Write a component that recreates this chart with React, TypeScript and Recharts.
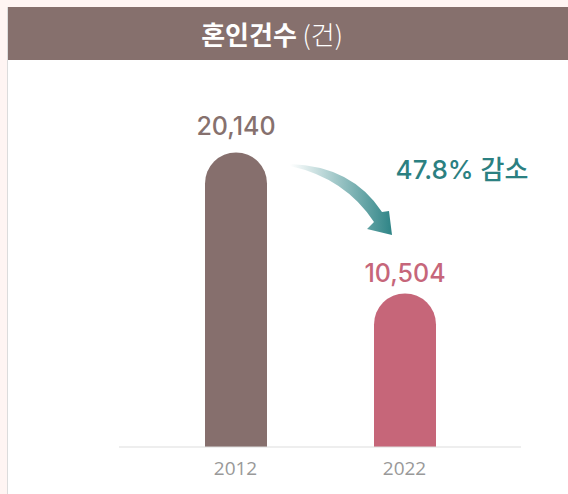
import { Bar, BarChart, Cell, LabelList, XAxis, YAxis } from "recharts";

const years = ["2012", "2022"];
const marriages = [20140, 10504];
const barColors = ["#866f6d", "#c66679"];
const labelColors = ["#86716e", "#c6667a"];
const changeText = "47.8% 감소";

const FONT = '"Noto Sans", "Noto Sans CJK KR", sans-serif';
const NUM_FONT = 'Inter, "Noto Sans CJK KR", sans-serif';

const data = years.map((year, i) => ({ year, value: marriages[i] }));

const labelOffsets = [17, 11];

function ValueLabel(props: any) {
  const { x, y, width, index, value } = props;
  return (
    <text
      x={x + width / 2}
      y={y - labelOffsets[index]}
      textAnchor="middle"
      fill={labelColors[index]}
      fontFamily={NUM_FONT}
      fontSize={25}
      fontWeight={500}
    >
      {Number(value).toLocaleString("en-US")}
    </text>
  );
}

export default function App() {
  return (
    <div
      style={{
        position: "absolute",
        left: 0,
        top: 0,
        width: 568,
        height: 494,
        background: "#fff5f3",
        overflow: "hidden",
        fontFamily: FONT,
      }}
    >
      <div
        style={{
          position: "absolute",
          left: 7,
          top: 7,
          width: 561,
          height: 487,
          background: "#fff",
          borderLeft: "1px solid #dcdcdc",
        }}
      />
      <div
        style={{
          position: "absolute",
          left: 8,
          top: 7,
          width: 560,
          height: 53,
          background: "#86706d",
        }}
      />
      <div
        style={{
          position: "absolute",
          left: 8,
          top: 7,
          width: 528,
          height: 53,
          lineHeight: "53px",
          textAlign: "center",
          color: "#fff",
          fontSize: 26,
          fontFamily: '"Noto Sans CJK KR", sans-serif',
        }}
      >
        <span style={{ fontWeight: 700 }}>혼인건수</span>
        <span style={{ fontWeight: 300 }}> (건)</span>
      </div>
      <div style={{ position: "absolute", left: 0, top: 0 }}>
        <BarChart
          width={568}
          height={494}
          data={data}
          margin={{ top: 96, right: 47, bottom: 17, left: 119 }}
        >
          <XAxis
            dataKey="year"
            height={30}
            padding={{ left: 32, right: 32 }}
            axisLine={{ stroke: "#dddddd" }}
            tickLine={false}
            tickSize={0}
            tickMargin={15}
            tick={{ fill: "#999999", fontSize: 19, fontFamily: '"Open Sans", sans-serif', fontWeight: 400 }}
          />
          <YAxis hide domain={[0, 24000]} />
          <Bar dataKey="value" barSize={62} radius={[31, 31, 0, 0]} isAnimationActive={false}>
            {data.map((d, i) => (
              <Cell key={d.year} fill={barColors[i]} />
            ))}
            <LabelList dataKey="value" content={ValueLabel} />
          </Bar>
        </BarChart>
      </div>
      <svg
        width={568}
        height={494}
        style={{ position: "absolute", left: 0, top: 0, pointerEvents: "none" }}
      >
        <defs>
          <linearGradient id="arrowGrad" x1="290" y1="0" x2="392" y2="0" gradientUnits="userSpaceOnUse">
            <stop offset="0" stopColor="#2e8486" stopOpacity={0} />
            <stop offset="1" stopColor="#2e8486" stopOpacity={1} />
          </linearGradient>
        </defs>
        <path
          d="M290,164 Q352,166 382,212 L389,211 L392,235 L367,229 L374,222 Q345,178 290,166 Z"
          fill="url(#arrowGrad)"
        />
        <text
          x={462}
          y={179}
          textAnchor="middle"
          fill="#2b8081"
          fontFamily={NUM_FONT}
          fontSize={26}
          fontWeight={500}
        >
          {changeText}
        </text>
      </svg>
    </div>
  );
}
